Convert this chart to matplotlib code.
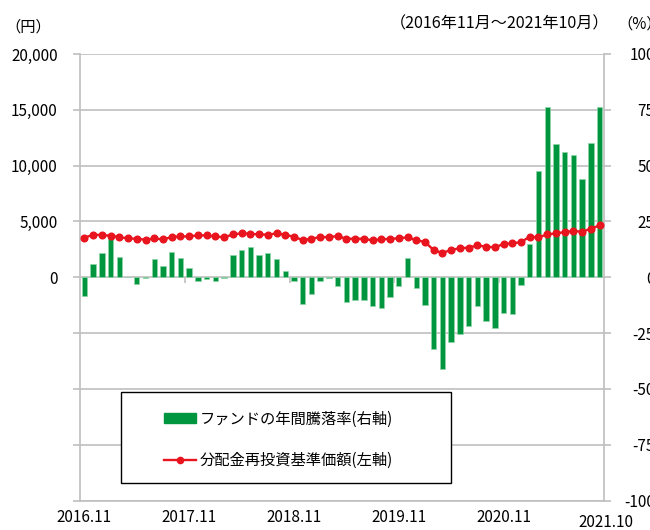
import matplotlib
matplotlib.use("Agg")
import matplotlib.pyplot as plt
from matplotlib.patches import Rectangle, Patch
from matplotlib.lines import Line2D
from matplotlib.transforms import offset_copy
import numpy as np
import pandas as pd

plt.rcParams['font.family'] = ['Noto Sans CJK JP', 'DejaVu Sans']

# monthly data, 2016.11 - 2021.10
months = pd.period_range("2016-11", "2021-10", freq="M").strftime("%Y.%m").tolist()

# fund annual change (%), right axis
annual_change = [
    -8.2, 6.1, 10.9, 18.0, 8.9, 0.3, -3.0, -0.3, 8.0, 5.1, 11.2, 8.6,
    4.0, -1.9, -0.6, -1.5, -0.2, 10.1, 12.4, 13.7, 9.8, 10.7, 8.0, 3.0,
    -1.7, -12.1, -7.6, -1.7, -0.3, -4.0, -10.9, -10.1, -10.4, -13.1, -13.7, -8.9,
    -4.0, 8.4, -4.8, -12.6, -32.3, -40.9, -29.0, -25.2, -22.0, -13.0, -19.4, -22.8,
    -15.9, -16.3, -3.4, 15.0, 47.8, 76.2, 59.8, 56.2, 54.8, 43.8, 60.1, 76.2,
]

# NAV with dividends reinvested (yen), left axis
nav = [
    3540, 3810, 3780, 3720, 3600, 3480, 3450, 3360, 3480, 3390, 3600, 3660,
    3660, 3750, 3750, 3660, 3570, 3840, 3930, 3900, 3840, 3810, 3930, 3810,
    3620, 3330, 3450, 3600, 3600, 3690, 3450, 3450, 3450, 3300, 3390, 3450,
    3480, 3580, 3330, 3150, 2440, 2170, 2460, 2590, 2660, 2850, 2740, 2680,
    2980, 3040, 3150, 3630, 3570, 3840, 3930, 4050, 4140, 4080, 4350, 4640,
]

yen_ticks = [-20000, -15000, -10000, -5000, 0, 5000, 10000, 15000, 20000]
yen_labels = ['', '', '', '', '0', '5,000', '10,000', '15,000', '20,000']
pct_ticks = [-100, -75, -50, -25, 0, 25, 50, 75, 100]
pct_labels = ['-100', '-75', '-50', '-25', '0', '25', '50', '75', '100']
xlabel_idx = [0, 12, 24, 36, 48, 59]

green = '#00963f'
red = '#e8141e'
grid_c = '#bfbfbf'
fs = 11

fig = plt.figure(figsize=(6.5, 5.3), dpi=100)
ax = fig.add_axes([80 / 650, 1 - 500.5 / 530, 524 / 650, 446.5 / 530])
ax2 = ax.twinx()
ax.set_zorder(ax2.get_zorder() + 1)
ax.patch.set_visible(False)

x = np.arange(len(months))

# bars (right axis)
ax2.bar(x, annual_change, width=0.62, color=green, edgecolor='#8fd6a8', linewidth=0.5, zorder=2)
ax2.set_ylim(-100, 100)
ax2.set_yticks(pct_ticks)
ax2.set_yticklabels(pct_labels, fontsize=fs)
ax2.set_axisbelow(True)
ax2.yaxis.grid(True, color=grid_c, linewidth=1.2)
ax2.tick_params(axis='y', direction='out', length=5, width=1.2, color=grid_c, pad=31.5)
for lbl in ax2.get_yticklabels():
    lbl.set_horizontalalignment('right')
# year separators on the zero line
ax2.plot([11.5, 23.5, 35.5, 47.5], [0] * 4, linestyle='none', marker=3, markersize=4,
         markeredgewidth=1.2, color=grid_c, zorder=1)

# NAV line (left axis)
ax.plot(x, nav, color=red, linewidth=1.7, marker='o', markersize=4.8, zorder=3)
ax.set_ylim(-20000, 20000)
ax.set_yticks(yen_ticks)
ax.set_yticklabels(yen_labels, fontsize=fs)
ax.tick_params(axis='y', direction='out', length=5, width=1.2, color=grid_c, pad=11)

ax.set_xlim(-0.5, len(months) - 0.5)
for a in (ax, ax2):
    a.tick_params(axis='x', length=0, labelbottom=False)
    for s in a.spines.values():
        s.set_visible(False)
ax.spines['left'].set_visible(True)
ax2.spines['right'].set_visible(True)
ax2.spines['bottom'].set_visible(True)
for s in (ax.spines['left'], ax2.spines['right'], ax2.spines['bottom']):
    s.set_color(grid_c)
    s.set_linewidth(1.2)

# x labels
xt = ax.get_xaxis_transform()
for i in xlabel_idx:
    if i == xlabel_idx[-1]:
        tr = offset_copy(xt, fig=fig, x=6, y=-5, units='dots')
    else:
        tr = xt
    ax.text(i, -0.037, months[i], transform=tr, ha='center', va='center', fontsize=fs)

# titles around the plot
fig.text(5 / 650, 1 - 27 / 530, '（円）', ha='left', va='center', fontsize=fs)
fig.text(500 / 650, 1 - 24 / 530, '（2016年11月～2021年10月）', ha='center', va='center', fontsize=11.6)
fig.text(617 / 650, 1 - 24 / 530, '（%）', ha='left', va='center', fontsize=fs)

# legend box
fig.add_artist(Rectangle((121 / 650, 1 - 483 / 530), 330 / 650, 91 / 530,
                         transform=fig.transFigure, facecolor='white',
                         edgecolor='black', linewidth=1.0, zorder=3))
handles = [Patch(facecolor=green, edgecolor=green),
           Line2D([], [], color=red, linewidth=1.7, marker='o', markersize=4.5)]
fig.legend(handles, ['ファンドの年間騰落率(右軸)', '分配金再投資基準価額(左軸)'],
           loc='upper left', bbox_to_anchor=(156 / 650, 1 - 403 / 530),
           frameon=False, borderpad=0, fontsize=fs, handlelength=2.1,
           handleheight=0.6, handletextpad=0.25, labelspacing=1.6)

fig.savefig('out.png', dpi=100)
